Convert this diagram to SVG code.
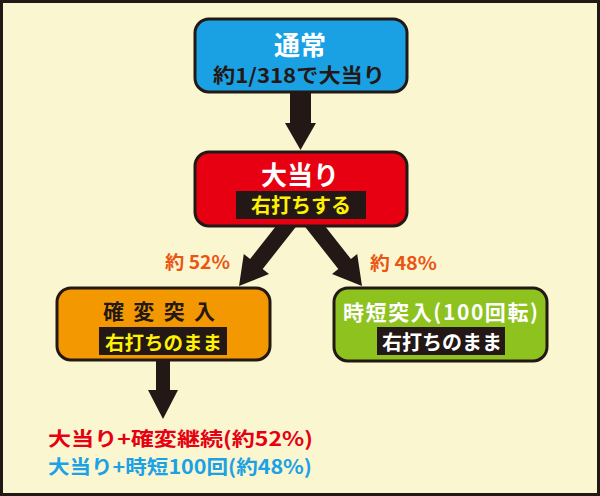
<svg xmlns="http://www.w3.org/2000/svg" width="600" height="496" viewBox="0 0 600 496">
<defs>
<style>
.t{font-family:"Noto Sans CJK JP","Noto Sans",sans-serif;font-weight:bold;dominant-baseline:central;text-anchor:middle}
.box{stroke:#231815;stroke-width:3}
.arr{fill:#231815}
.pct{font-size:18.5px;fill:#ea5514}
</style>
</defs>
<rect x="1.5" y="1.5" width="597" height="493" fill="#faf6d0" stroke="#231815" stroke-width="3"/>
<g id="connectors">
<polygon class="arr" points="290,90 311,90 311,123 316,123 300.5,150 285,123 290,123"/>
<polygon class="arr" points="301.3,220 288.7,210 250.1,259 243.8,254 239,286 269,274 262.7,269"/>
<polygon class="arr" points="299.7,220 312.3,210 350.9,259 357.2,254 362,286 332,274 338.3,269"/>
<polygon class="arr" points="156,358 170,358 170,390 178,390 163,419 148,390 156,390"/>
</g>
<g id="node-normal">
<rect class="box" x="195" y="19" width="212" height="73" rx="14" fill="#19a1e4"/>
<text class="t" x="300" y="43.5" font-size="26" fill="#ffffff">通常</text>
<text class="t" x="299" y="74" font-size="20" fill="#231815" textLength="172" lengthAdjust="spacingAndGlyphs">約1/318で大当り</text>
</g>
<g id="node-bigwin">
<rect class="box" x="195" y="152" width="212" height="74" rx="14" fill="#e60012"/>
<text class="t" x="300" y="173" font-size="26" fill="#ffffff">大当り</text>
<rect x="236" y="191" width="130" height="28" fill="#231815"/>
<text class="t" x="301" y="204.5" font-size="20" fill="#fff100">右打ちする</text>
</g>
<g id="label-52">
<text class="t pct" x="197.5" y="261" textLength="65" lengthAdjust="spacingAndGlyphs">約 52%</text>
</g>
<g id="label-48">
<text class="t pct" x="403.5" y="262" textLength="67" lengthAdjust="spacingAndGlyphs">約 48%</text>
</g>
<g id="node-kakuhen">
<rect class="box" x="57" y="288" width="213" height="72" rx="14" fill="#f39800"/>
<text class="t" x="159" y="310" font-size="21" fill="#231815" textLength="112" lengthAdjust="spacing">確変突入</text>
<rect x="99" y="327" width="128" height="28" fill="#231815"/>
<text class="t" x="163.5" y="341.5" font-size="19.5" fill="#fff100">右打ちのまま</text>
</g>
<g id="node-jitan">
<rect class="box" x="334" y="288" width="213" height="73" rx="14" fill="#8dc21f"/>
<text class="t" x="440.5" y="311" font-size="21" fill="#ffffff" textLength="195" lengthAdjust="spacing">時短突入(100回転)</text>
<rect x="377" y="327" width="128" height="28" fill="#231815"/>
<text class="t" x="442" y="341.5" font-size="20" fill="#ffffff">右打ちのまま</text>
</g>
<g id="result-text">
<text class="t" x="180.5" y="437" font-size="19.5" fill="#e60012" textLength="265" lengthAdjust="spacingAndGlyphs">大当り+確変継続(約52%)</text>
<text class="t" x="180" y="465" font-size="19.5" fill="#1ba1e6" textLength="264" lengthAdjust="spacingAndGlyphs">大当り+時短100回(約48%)</text>
</g>
</svg>
